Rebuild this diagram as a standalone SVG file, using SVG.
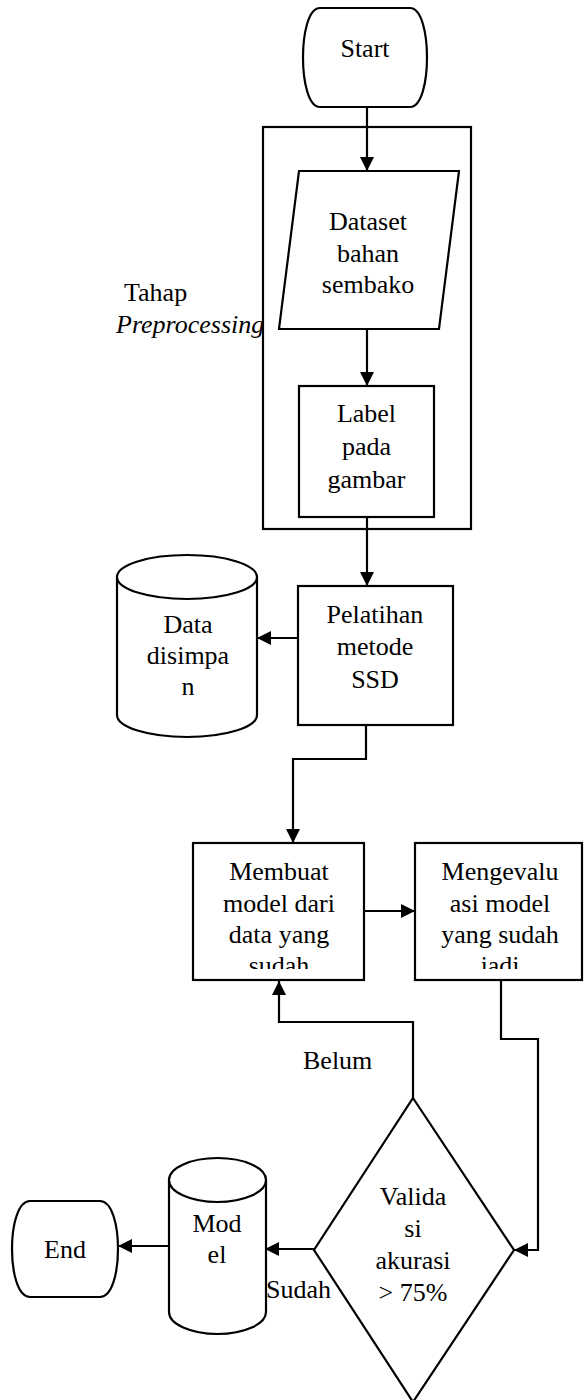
<svg xmlns="http://www.w3.org/2000/svg" width="584" height="1400" viewBox="0 0 584 1400">
  <style>
    .shape { fill: #ffffff; stroke: #000000; stroke-width: 2.2; }
    .frame { fill: none; stroke: #000000; stroke-width: 2.2; }
    .line { fill: none; stroke: #000000; stroke-width: 2.2; marker-end: url(#arrow); }
    text { font-family: "Liberation Serif", "Times New Roman", serif; font-size: 26px; fill: #000000; }
    .c { text-anchor: middle; }
  </style>
  <defs>
    <marker id="arrow" markerUnits="userSpaceOnUse" markerWidth="14" markerHeight="14" refX="14" refY="7" orient="auto">
      <path d="M0,0 L14,7 L0,14 Z" fill="#000000"/>
    </marker>
    <clipPath id="clipMembuat"><rect x="194" y="844" width="169" height="125"/></clipPath>
    <clipPath id="clipEvaluasi"><rect x="416" y="844" width="165" height="125"/></clipPath>
  </defs>

  <!-- preprocessing stage frame -->
  <g id="preprocessing">
    <rect class="frame" x="263" y="127" width="208" height="402"/>
    <text x="124" y="301">Tahap</text>
    <text x="116" y="333" font-style="italic">Preprocessing</text>
  </g>

  <g id="connectors">
    <path class="line" d="M367,107 L367,171"/>
    <path class="line" d="M367,329 L367,386"/>
    <path class="line" d="M367,517 L367,586"/>
    <path class="line" d="M298,638 L257,638"/>
    <path class="line" d="M366,725 L366,759 L293,759 L293,843"/>
    <path class="line" d="M364,911 L415,911"/>
    <path class="line" d="M501,980 L501,1039 L538,1039 L538,1250 L514,1250"/>
    <path class="line" d="M413,1098 L413,1022 L279,1022 L279,981"/>
    <path class="line" d="M314,1249 L265,1249"/>
    <path class="line" d="M169,1246 L118,1246"/>
  </g>

  <g id="start">
    <path class="shape" d="M320,8 L410,8 C422,8 427,35 427,57.5 C427,80 422,107 410,107 L320,107 C308,107 303,80 303,57.5 C303,35 308,8 320,8 Z"/>
    <text class="c" x="365" y="57">Start</text>
  </g>

  <g id="dataset">
    <polygon class="shape" points="299,171 459,171 439,329 279,329"/>
    <text class="c" x="368" y="230">Dataset</text>
    <text class="c" x="368" y="262">bahan</text>
    <text class="c" x="368" y="293">sembako</text>
  </g>

  <g id="label">
    <rect class="shape" x="299" y="386" width="135" height="131"/>
    <text class="c" x="366.5" y="422">Label</text>
    <text class="c" x="366.5" y="455">pada</text>
    <text class="c" x="366.5" y="488">gambar</text>
  </g>

  <g id="pelatihan">
    <rect class="shape" x="298" y="586" width="155" height="139"/>
    <text class="c" x="375" y="623">Pelatihan</text>
    <text class="c" x="375" y="655">metode</text>
    <text class="c" x="375" y="688">SSD</text>
  </g>

  <g id="data-disimpan">
    <path class="shape" d="M117,577 L117,715 A70,22 0 0 0 257,715 L257,577"/>
    <ellipse class="shape" cx="187" cy="577" rx="70" ry="22"/>
    <text class="c" x="188" y="633">Data</text>
    <text class="c" x="188" y="664">disimpa</text>
    <text class="c" x="188" y="695">n</text>
  </g>

  <g id="membuat-model">
    <rect class="shape" x="193" y="843" width="171" height="137"/>
    <g clip-path="url(#clipMembuat)">
      <text class="c" x="279" y="880">Membuat</text>
      <text class="c" x="279" y="912">model dari</text>
      <text class="c" x="279" y="943">data yang</text>
      <text class="c" x="279" y="974">sudah</text>
    </g>
  </g>

  <g id="evaluasi">
    <rect class="shape" x="415" y="843" width="167" height="137"/>
    <g clip-path="url(#clipEvaluasi)">
      <text class="c" x="500" y="880">Mengevalu</text>
      <text class="c" x="500" y="912">asi model</text>
      <text class="c" x="500" y="943">yang sudah</text>
      <text class="c" x="500" y="974">jadi</text>
    </g>
  </g>

  <g id="validasi">
    <polygon class="shape" points="413,1098 514,1250 413,1402 314,1250"/>
    <text class="c" x="413" y="1205">Valida</text>
    <text class="c" x="413" y="1237">si</text>
    <text class="c" x="413" y="1269">akurasi</text>
    <text class="c" x="413" y="1301">&gt; 75%</text>
  </g>

  <g id="edge-labels">
    <text x="303" y="1069">Belum</text>
    <text x="266" y="1298">Sudah</text>
  </g>

  <g id="model">
    <path class="shape" d="M169,1180 L169,1312 A48.5,22 0 0 0 266,1312 L266,1180"/>
    <ellipse class="shape" cx="217.5" cy="1180" rx="48.5" ry="22"/>
    <text class="c" x="217" y="1232">Mod</text>
    <text class="c" x="217" y="1263">el</text>
  </g>

  <g id="end">
    <path class="shape" d="M30,1201 L100,1201 C112,1201 118,1225 118,1249 C118,1273 112,1297 100,1297 L30,1297 C18,1297 12,1273 12,1249 C12,1225 18,1201 30,1201 Z"/>
    <text class="c" x="65" y="1258">End</text>
  </g>
</svg>
